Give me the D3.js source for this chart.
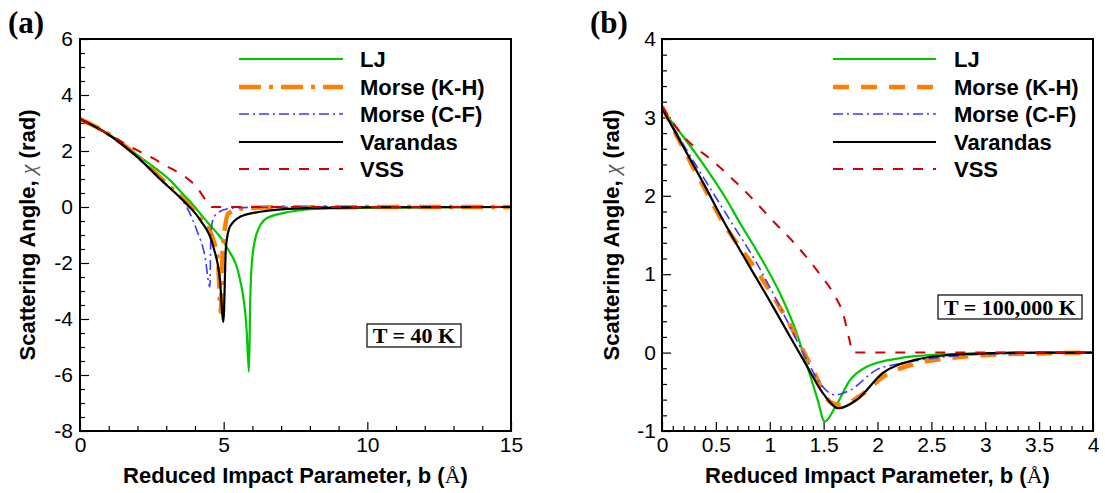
<!DOCTYPE html>
<html><head><meta charset="utf-8">
<script src="https://cdn.jsdelivr.net/npm/d3@7"></script>
<style>body{margin:0;background:#fff}svg{display:block}</style>
</head><body>
<svg id="c" width="1105" height="493"></svg>
<script>
// ---------- Panel (a): T = 40 K ----------
const aLJ_b   = [0, 1, 2, 3, 3.13, 3.5, 4, 4.18, 4.5, 5.1, 5.57, 5.8, 5.88, 5.92, 5.98, 6.15, 6.5, 7.3, 8, 10, 15];
const aLJ_chi = [3.14, 2.6, 1.85, 1.08, 0.96, 0.55, 0.0, -0.23, -0.62, -1.42, -2.6, -4.4, -5.88, -3.56, -2.0, -0.94, -0.40, -0.17, -0.08, -0.02, 0];
const aKH_b   = [0, 1, 2, 3, 3.6, 4.18, 4.64, 4.8, 4.9, 4.97, 5.05, 5.16, 5.67, 7, 15];
const aKH_chi = [3.14, 2.6, 1.82, 0.85, 0.28, -0.38, -1.18, -1.9, -3.74, -1.42, -0.70, -0.23, -0.05, -0.01, 0];
const aCF_b   = [0, 1, 2, 3, 3.5, 3.71, 4.06, 4.35, 4.52, 4.55, 4.6, 4.76, 5.22, 6, 15];
const aCF_chi = [3.14, 2.58, 1.78, 0.82, 0.3, 0.0, -0.82, -1.77, -2.85, -1.2, -0.55, -0.23, -0.05, -0.01, 0];
const aVar_b   = [0, 1, 2, 2.78, 3.6, 4.18, 4.64, 4.87, 4.99, 5.08, 5.22, 5.57, 6.27, 7.66, 10, 15];
const aVar_chi = [3.14, 2.58, 1.78, 1.0, 0.22, -0.46, -1.42, -2.6, -4.1, -1.42, -0.70, -0.35, -0.17, -0.05, -0.01, 0];
const aVSS_b   = [0, 0.5, 1, 1.5, 2, 2.5, 3, 3.5, 3.83, 4.1, 4.29, 4.45, 4.58, 15];
const aVSS_chi = [3.14, 2.86, 2.6, 2.3, 2.02, 1.76, 1.47, 1.18, 0.94, 0.66, 0.37, 0.15, 0, 0];

// ---------- Panel (b): T = 100,000 K ----------
const bLJ_b   = [0, 0.2, 0.4, 0.6, 0.708, 0.9, 1.1, 1.25, 1.34, 1.44, 1.51, 1.61, 1.745, 1.9, 2.21, 2.52, 3, 4];
const bLJ_chi = [3.1, 2.75, 2.37, 1.95, 1.69, 1.25, 0.74, 0.25, -0.14, -0.58, -0.88, -0.69, -0.35, -0.18, -0.07, -0.03, -0.01, 0];
const bKH_b   = [0, 0.2, 0.4, 0.55, 0.91, 1.2, 1.4, 1.56, 1.65, 1.87, 2.05, 2.36, 2.67, 3, 3.5, 4];
const bKH_chi = [3.14, 2.6, 2.08, 1.7, 0.98, 0.32, -0.22, -0.63, -0.67, -0.52, -0.31, -0.14, -0.07, -0.03, -0.01, 0];
const bCF_b   = [0, 0.2, 0.4, 0.631, 0.879, 1.126, 1.343, 1.466, 1.606, 1.745, 1.99, 2.21, 2.67, 3, 4];
const bCF_chi = [3.12, 2.65, 2.2, 1.69, 1.14, 0.50, -0.09, -0.39, -0.54, -0.48, -0.22, -0.14, -0.05, -0.02, 0];
const bVar_b   = [0, 0.2, 0.4, 0.554, 0.786, 1.0, 1.19, 1.34, 1.5, 1.64, 1.81, 2.05, 2.36, 2.67, 3, 3.5, 4];
const bVar_chi = [3.12, 2.62, 2.12, 1.72, 1.16, 0.66, 0.2, -0.16, -0.53, -0.71, -0.60, -0.26, -0.09, -0.03, -0.01, 0, 0];
const bVSS_b   = [0, 0.18, 0.5, 0.82, 1.05, 1.22, 1.47, 1.61, 1.68, 1.74, 1.77, 4];
const bVSS_chi = [3.14, 2.79, 2.41, 1.99, 1.65, 1.41, 0.99, 0.71, 0.50, 0.16, 0, 0];

// ---------- labels / ticks ----------
const seriesNames = ["LJ", "Morse (K-H)", "Morse (C-F)", "Varandas", "VSS"];
const aXTicks = [0, 5, 10, 15];
const aYTicks = [6, 4, 2, 0, -2, -4, -6, -8];
const bXTicks = [0, 0.5, 1, 1.5, 2, 2.5, 3, 3.5, 4];
const bYTicks = [4, 3, 2, 1, 0, -1];
const panelLabels = ["(a)", "(b)"];
const tempLabels = ["T = 40 K", "T = 100,000 K"];
const xTitle = "Reduced Impact Parameter, b (";
const yTitle = "Scattering Angle, ";

const SANS = "'Liberation Sans', Arial, Helvetica, sans-serif";
const SERIF = "'Liberation Serif', 'Times New Roman', serif";
const svg = d3.select("#c");

function zip(bs, cs){ return bs.map((b,i)=>({b:b, c:cs[i]})); }

function panel(cfg){
  const x = d3.scaleLinear().domain(cfg.xDom).range([cfg.L, cfg.R]);
  const y = d3.scaleLinear().domain(cfg.yDom).range([cfg.B, cfg.T]);
  const g = svg.append("g");
  const cid = "clip" + cfg.id;
  g.append("clipPath").attr("id", cid).append("rect")
    .attr("x", cfg.L).attr("y", cfg.T).attr("width", cfg.R-cfg.L).attr("height", cfg.B-cfg.T);

  const xMinor = d3.range(cfg.xDom[0], cfg.xDom[1] + 1e-9, cfg.xMinorStep).filter(v => !cfg.xTicks.some(t => Math.abs(t-v) < 1e-6));
  const yMinor = d3.range(cfg.yDom[0], cfg.yDom[1] + 1e-9, cfg.yMinorStep).filter(v => !cfg.yTicks.some(t => Math.abs(t-v) < 1e-6));
  const fmt = d => String(d);

  g.append("g").attr("transform", `translate(0,${cfg.B})`)
    .call(d3.axisBottom(x).tickValues(cfg.xTicks).tickSize(-9).tickPadding(6).tickFormat(fmt));
  g.append("g").attr("transform", `translate(0,${cfg.B})`)
    .call(d3.axisBottom(x).tickValues(xMinor).tickSize(-5).tickFormat(""));
  g.append("g").attr("transform", `translate(${cfg.L},0)`)
    .call(d3.axisLeft(y).tickValues(cfg.yTicks).tickSize(-9).tickPadding(cfg.yPad).tickFormat(fmt));
  g.append("g").attr("transform", `translate(${cfg.L},0)`)
    .call(d3.axisLeft(y).tickValues(yMinor).tickSize(-5).tickFormat(""));
  g.selectAll(".domain").remove();
  g.selectAll(".tick line").attr("stroke", "#000").attr("stroke-width", 1.2);
  g.selectAll(".tick text").attr("font-family", SANS).attr("font-size", 21).attr("fill", "#000");

  const line = d3.line().x(d => x(d.b)).y(d => y(d.c)).curve(d3.curveMonotoneX);
  const cg = g.append("g").attr("clip-path", `url(#${cid})`);
  cfg.series.forEach(s => {
    cg.append("path").attr("d", line(zip(s.b, s.c))).attr("fill", "none")
      .attr("stroke", s.color).attr("stroke-width", s.w).attr("stroke-dasharray", s.dash || null)
      .attr("stroke-linejoin", "round");
  });

  g.append("rect").attr("x", cfg.L).attr("y", cfg.T).attr("width", cfg.R-cfg.L).attr("height", cfg.B-cfg.T)
    .attr("fill", "none").attr("stroke", "#000").attr("stroke-width", 2);

  const rows = [59, 87, 114, 142, 169];
  cfg.series.forEach((s, i) => {
    g.append("line").attr("x1", cfg.legX1).attr("x2", cfg.legX2).attr("y1", rows[i]).attr("y2", rows[i])
      .attr("stroke", s.color).attr("stroke-width", s.w).attr("stroke-dasharray", s.dash || null);
    g.append("text").attr("x", cfg.legTx).attr("y", rows[i]).attr("dy", "0.36em")
      .attr("font-family", SANS).attr("font-weight", "bold").attr("font-size", 22).text(seriesNames[i]);
  });

  g.append("text").attr("x", (cfg.box[0]+cfg.box[2])/2).attr("y", (cfg.box[1]+cfg.box[3])/2)
    .attr("dy", "0.35em").attr("text-anchor", "middle")
    .attr("font-family", SERIF).attr("font-weight", "bold").attr("font-size", 22).text(cfg.temp);
  g.append("rect").attr("x", cfg.box[0]).attr("y", cfg.box[1]).attr("width", cfg.box[2]-cfg.box[0]).attr("height", cfg.box[3]-cfg.box[1])
    .attr("fill", "none").attr("stroke", "#000").attr("stroke-width", 1.2);

  const xt = g.append("text").attr("x", (cfg.L+cfg.R)/2).attr("y", 483).attr("text-anchor", "middle")
    .attr("font-family", SANS).attr("font-weight", "bold").attr("font-size", 22);
  xt.append("tspan").text(xTitle);
  xt.append("tspan").attr("font-family", SERIF).attr("font-weight", "normal").text("Å");
  xt.append("tspan").text(")");

  const yt = g.append("text").attr("transform", `translate(${cfg.yTitleX},${(cfg.T+cfg.B)/2}) rotate(-90)`)
    .attr("text-anchor", "middle").attr("font-family", SANS).attr("font-weight", "bold").attr("font-size", 22);
  yt.append("tspan").text(yTitle);
  yt.append("tspan").attr("font-family", SERIF).attr("font-weight", "normal").attr("font-style", "italic").attr("fill", "#555").text("χ");
  yt.append("tspan").text(" (rad)");

  g.append("text").attr("x", cfg.labX).attr("y", 33).attr("font-family", SERIF).attr("font-weight", "bold")
    .attr("font-size", 31).text(cfg.label);
}

const GREEN = "#00c800", ORANGE = "#ff8000", BLUE = "#3a3aff", BLACK = "#000", RED = "#d40000";

panel({
  id: "a", L: 80, R: 511, T: 39, B: 431, xDom: [0, 15], yDom: [-8, 6],
  xTicks: aXTicks, yTicks: aYTicks, xMinorStep: 1, yMinorStep: 0.5, yPad: 7,
  series: [
    {b: aLJ_b, c: aLJ_chi, color: GREEN, w: 2.2},
    {b: aKH_b, c: aKH_chi, color: ORANGE, w: 4.5, dash: "22,8,4,8"},
    {b: aCF_b, c: aCF_chi, color: BLUE, w: 1.6, dash: "10,4,2,4"},
    {b: aVar_b, c: aVar_chi, color: BLACK, w: 2.2},
    {b: aVSS_b, c: aVSS_chi, color: RED, w: 2, dash: "10,10"}
  ],
  legX1: 239, legX2: 343, legTx: 360, box: [367, 324, 461, 347], temp: tempLabels[0],
  yTitleX: 35, labX: 8, label: panelLabels[0]
});

panel({
  id: "b", L: 662, R: 1093, T: 39, B: 431, xDom: [0, 4], yDom: [-1, 4],
  xTicks: bXTicks, yTicks: bYTicks, xMinorStep: 0.1, yMinorStep: 0.2, yPad: 6,
  series: [
    {b: bLJ_b, c: bLJ_chi, color: GREEN, w: 2.2},
    {b: bKH_b, c: bKH_chi, color: ORANGE, w: 4.5, dash: "16,12"},
    {b: bCF_b, c: bCF_chi, color: BLUE, w: 1.6, dash: "10,4,2,4"},
    {b: bVar_b, c: bVar_chi, color: BLACK, w: 2.2},
    {b: bVSS_b, c: bVSS_chi, color: RED, w: 2, dash: "10,10"}
  ],
  legX1: 833, legX2: 936, legTx: 954, box: [938, 295, 1082, 319], temp: tempLabels[1],
  yTitleX: 619, labX: 590, label: panelLabels[1]
});
</script>
</body></html>
